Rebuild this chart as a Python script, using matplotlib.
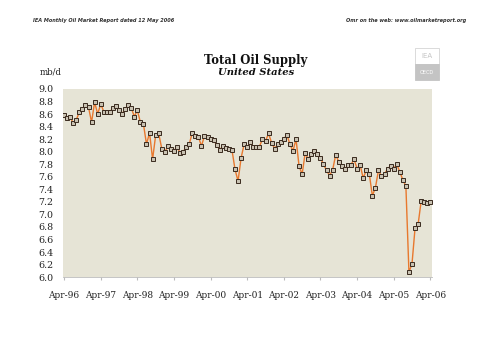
import numpy as np
import matplotlib
matplotlib.use('Agg')
import matplotlib.pyplot as plt
from matplotlib.patches import Rectangle

# monthly US total oil supply, Apr-96 .. Apr-06 (mb/d)
supply = [
    8.58, 8.53, 8.56, 8.45, 8.51, 8.63, 8.68, 8.75, 8.71, 8.47, 8.79, 8.60,
    8.76, 8.64, 8.64, 8.64, 8.69, 8.73, 8.66, 8.60, 8.68, 8.75, 8.70, 8.56,
    8.66, 8.47, 8.44, 8.12, 8.30, 7.88, 8.26, 8.29, 8.05, 7.99, 8.09, 8.05,
    8.01, 8.08, 7.98, 7.99, 8.08, 8.12, 8.30, 8.25, 8.24, 8.09, 8.25, 8.23,
    8.21, 8.18, 8.11, 8.03, 8.09, 8.06, 8.05, 8.03, 7.72, 7.53, 7.90, 8.12,
    8.07, 8.15, 8.08, 8.08, 8.08, 8.20, 8.17, 8.29, 8.14, 8.05, 8.12, 8.15,
    8.20, 8.27, 8.12, 8.01, 8.20, 7.77, 7.64, 7.98, 7.88, 7.97, 8.01, 7.97,
    7.90, 7.80, 7.70, 7.62, 7.71, 7.95, 7.84, 7.77, 7.72, 7.79, 7.79, 7.88,
    7.73, 7.79, 7.58, 7.70, 7.65, 7.30, 7.42, 7.70, 7.61, 7.64, 7.73, 7.77,
    7.73, 7.80, 7.68, 7.55, 7.45, 6.08, 6.21, 6.78, 6.84, 7.21, 7.19, 7.18,
    7.19,
]
tick_labels = ['Apr-96', 'Apr-97', 'Apr-98', 'Apr-99', 'Apr-00', 'Apr-01',
               'Apr-02', 'Apr-03', 'Apr-04', 'Apr-05', 'Apr-06']
yticks = [6.0, 6.2, 6.4, 6.6, 6.8, 7.0, 7.2, 7.4, 7.6, 7.8, 8.0,
          8.2, 8.4, 8.6, 8.8, 9.0]

SERIF = ['DejaVu Serif']
months = np.arange(len(supply))

fig = plt.figure(figsize=(4.99, 3.53), dpi=100)
fig.patch.set_facecolor('white')
ax = fig.add_axes([0.126, 0.215, 0.740, 0.533])
ax.set_facecolor('#e6e4d6')

ax.plot(months, supply, color='#e8782e', lw=1.0, marker='s', ms=3.4,
        mfc='#c9c2b2', mec='#3a2a1e', mew=0.7, zorder=3)

ax.set_xlim(-0.4, 120.6)
ax.set_ylim(6.0, 9.0)
ax.set_yticks(yticks)
ax.set_yticklabels(['%.1f' % v for v in yticks], family=SERIF, fontsize=6.8,
                   color='#222222')
ax.set_xticks(np.arange(0, 121, 12))
ax.set_xticklabels(tick_labels, family=SERIF, fontsize=6.5, color='#222222')
ax.tick_params(axis='y', length=0, pad=7)
ax.tick_params(axis='x', length=2, color='#bbbbbb', pad=8)
for s in ['top', 'right', 'left']:
    ax.spines[s].set_visible(False)
ax.spines['bottom'].set_color('#bbbbbb')
ax.spines['bottom'].set_linewidth(0.6)

# titles and headers
fig.text(0.513, 0.830, 'Total Oil Supply', ha='center', va='center',
         family=SERIF, fontsize=8.4, fontweight='bold', color='#111111')
fig.text(0.513, 0.796, 'United States', ha='center', va='center',
         family=SERIF, fontsize=7.2, fontweight='bold', style='italic',
         color='#111111')
fig.text(0.080, 0.795, 'mb/d', ha='left', va='center', family=SERIF,
         fontsize=6.2, color='#222222')
fig.text(0.066, 0.942, 'IEA Monthly Oil Market Report dated 12 May 2006',
         ha='left', va='center', fontsize=3.6, fontweight='bold',
         style='italic', color='#333333')
fig.text(0.934, 0.942, 'Omr on the web: www.oilmarketreport.org',
         ha='right', va='center', fontsize=3.6, fontweight='bold',
         style='italic', color='#333333')

# simple logo block
fig.patches.append(Rectangle((0.832, 0.818), 0.048, 0.045, transform=fig.transFigure,
                             fc='white', ec='#d4d4d4', lw=0.6))
fig.patches.append(Rectangle((0.832, 0.773), 0.048, 0.045, transform=fig.transFigure,
                             fc='#c4c4c4', ec='#c4c4c4', lw=0.6))
fig.text(0.856, 0.840, 'IEA', ha='center', va='center', fontsize=5,
         color='#c4c4c4')
fig.text(0.856, 0.795, 'OECD', ha='center', va='center', fontsize=3.6,
         color='white')

fig.savefig('out.png', dpi=100, facecolor='white')
